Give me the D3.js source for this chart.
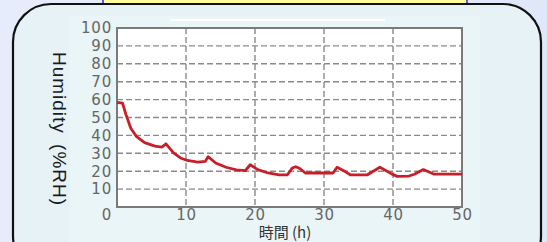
<!DOCTYPE html>
<html>
<head>
<meta charset="utf-8">
<script src="https://cdn.jsdelivr.net/npm/d3@7"></script>
<style>
  html, body { margin: 0; padding: 0; }
  body { width: 547px; height: 242px; overflow: hidden; background: #e3eafb; }
  svg { display: block; }
</style>
</head>
<body>
<svg id="chart" width="547" height="242"></svg>
<script>
// data
var hours = [0, 0.8, 1.3, 2, 2.8, 4, 5.5, 6.5, 7.1, 8.2, 9.2, 10.2, 11.7, 12.8, 13.2, 14.3, 15.8, 17.3, 18.6, 19.3, 20.4, 21.9, 23.5, 24.7, 25.4, 25.9, 26.5, 27.3, 31.3, 31.9, 33.2, 33.8, 36.3, 38.1, 39.8, 40.6, 42.3, 43.1, 44.4, 45.9, 50];
var humidity = [58.5, 58, 51.6, 44, 39.5, 36, 34, 33.5, 35.3, 30.2, 27.4, 26, 25.1, 25.5, 28.1, 24.6, 22.2, 20.7, 20.3, 23.6, 20.9, 19, 18, 18, 21.8, 22.5, 21.5, 19, 19, 22.2, 19.5, 18, 18, 22.2, 18.5, 17.1, 17.3, 18.3, 20.9, 18.4, 18.4];
var xTicks = [10, 20, 30, 40, 50];
var yTicks = [0, 10, 20, 30, 40, 50, 60, 70, 80, 90, 100];
var xTitle = "時間 (h)";
var yTitle = "Humidity (%RH)";

var svg = d3.select("#chart");

// page decoration
var defs = svg.append("defs");
var bg = defs.append("linearGradient").attr("id", "bg").attr("x1", 0).attr("x2", 1);
bg.append("stop").attr("offset", "0%").attr("stop-color", "#e6ecfc");
bg.append("stop").attr("offset", "100%").attr("stop-color", "#dfe7f9");
svg.append("rect").attr("width", 547).attr("height", 242).attr("fill", "url(#bg)");

svg.append("rect")
    .attr("x", 103).attr("y", -4).attr("width", 364).attr("height", 8)
    .attr("fill", "#ffff99").attr("stroke", "#2a2ac8").attr("stroke-width", 1.5);

svg.append("rect")
    .attr("x", 13).attr("y", 4).attr("width", 528).attr("height", 270)
    .attr("rx", 38).attr("ry", 38)
    .attr("fill", "#e6f2f5").attr("stroke", "#111").attr("stroke-width", 2.2);

svg.append("rect")
    .attr("x", 70).attr("y", 16).attr("width", 410).attr("height", 226)
    .attr("fill", "#eaf5f7");
svg.append("line")
    .attr("x1", 171).attr("x2", 385).attr("y1", 20).attr("y2", 20)
    .attr("stroke", "#fff").attr("stroke-width", 2);

var plotL = 117, plotR = 462, plotT = 28, plotB = 207;

var x = d3.scaleLinear().domain([0, 50]).range([plotL, plotR]);
var y = d3.scaleLinear().domain([0, 100]).range([plotB, plotT]);

svg.append("rect")
    .attr("x", plotL).attr("y", plotT).attr("width", plotR - plotL).attr("height", plotB - plotT)
    .attr("fill", "#fff");

// dashed grid
svg.append("g")
    .selectAll("line")
    .data(yTicks.filter(function (d) { return d > 0 && d < 100; }))
    .enter().append("line")
    .attr("x1", plotL).attr("x2", plotR)
    .attr("y1", function (d) { return y(d); })
    .attr("y2", function (d) { return y(d); })
    .attr("stroke", "#8a8a8a").attr("stroke-width", 1.4)
    .attr("stroke-dasharray", "6,3");
svg.append("g")
    .selectAll("line")
    .data(xTicks.filter(function (d) { return d < 50; }))
    .enter().append("line")
    .attr("y1", plotT).attr("y2", plotB)
    .attr("x1", function (d) { return x(d); })
    .attr("x2", function (d) { return x(d); })
    .attr("stroke", "#8a8a8a").attr("stroke-width", 1.4)
    .attr("stroke-dasharray", "6,3");

svg.append("rect")
    .attr("x", plotL).attr("y", plotT).attr("width", plotR - plotL).attr("height", plotB - plotT)
    .attr("fill", "none").attr("stroke", "#7a7a7a").attr("stroke-width", 2);

// axes (labels only)
var yAxis = svg.append("g")
    .attr("transform", "translate(" + plotL + ",0)")
    .call(d3.axisLeft(y).tickValues(yTicks).tickSize(0).tickPadding(5));
var xAxis = svg.append("g")
    .attr("transform", "translate(0," + plotB + ")")
    .call(d3.axisBottom(x).tickValues(xTicks).tickSize(0).tickPadding(2));
[yAxis, xAxis].forEach(function (a) {
    a.select(".domain").remove();
    a.selectAll("text")
        .attr("font-family", "DejaVu Sans, sans-serif")
        .attr("font-size", 15)
        .attr("letter-spacing", 0.8)
        .attr("fill", "#666");
});
// the 0 label sits down at the corner, in the x label row
yAxis.selectAll(".tick").filter(function (d) { return d === 0; })
    .select("text").attr("dy", "0.82em");

// humidity line
var line = d3.line()
    .x(function (d, i) { return x(hours[i]); })
    .y(function (d) { return y(d); });
svg.append("path")
    .attr("d", line(humidity))
    .attr("fill", "none")
    .attr("stroke", "#c81e28")
    .attr("stroke-width", 2.8)
    .attr("stroke-linejoin", "round");

// titles
svg.append("text")
    .attr("x", 285).attr("y", 238)
    .attr("text-anchor", "middle")
    .attr("font-family", "Noto Sans CJK JP, sans-serif")
    .attr("font-size", 15)
    .attr("fill", "#333")
    .text(xTitle);
svg.append("text")
    .attr("transform", "translate(53,129) rotate(90)")
    .attr("text-anchor", "middle")
    .attr("font-family", "Liberation Sans, Arial, sans-serif")
    .attr("font-size", 19)
    .attr("word-spacing", 4)
    .attr("letter-spacing", 1)
    .attr("fill", "#1a1a1a")
    .text(yTitle);
</script>
</body>
</html>
